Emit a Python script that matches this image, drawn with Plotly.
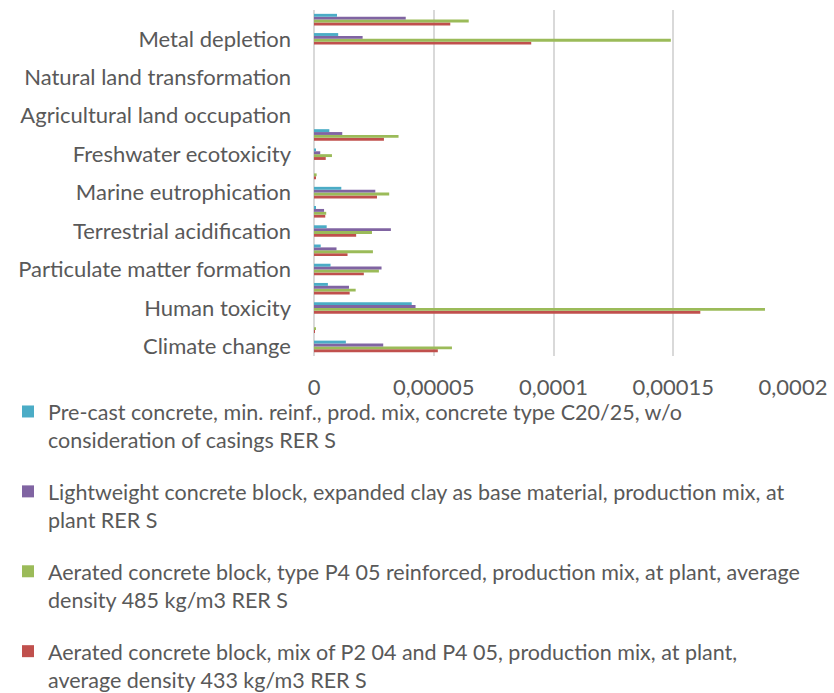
import plotly.graph_objects as go

# ReCiPe midpoint impact categories, listed bottom to top
categories = [
    "Climate change",
    "Ozone depletion",
    "Human toxicity",
    "Photochemical oxidant formation",
    "Particulate matter formation",
    "Ionising radiation",
    "Terrestrial acidification",
    "Freshwater eutrophication",
    "Marine eutrophication",
    "Terrestrial ecotoxicity",
    "Freshwater ecotoxicity",
    "Marine ecotoxicity",
    "Agricultural land occupation",
    "Urban land occupation",
    "Natural land transformation",
    "Water depletion",
    "Metal depletion",
    "Fossil depletion",
]

# only every other category carries a visible axis label
labeled_categories = categories[0::2]

series_names = [
    "Pre-cast concrete, min. reinf., prod. mix, concrete type C20/25, w/o<br>consideration of casings RER S",
    "Lightweight concrete block, expanded clay as base material, production mix, at<br>plant RER S",
    "Aerated concrete block, type P4 05 reinforced, production mix, at plant, average<br>density 485 kg/m3 RER S",
    "Aerated concrete block, mix of P2 04 and P4 05, production mix, at plant,<br>average density 433 kg/m3 RER S",
]

precast = [1.33e-5, 0.0, 4.08e-5, 0.58e-5, 0.69e-5, 0.28e-5, 0.53e-5, 0.05e-5, 1.14e-5,
           0.0, 0.07e-5, 0.64e-5, 0.0, 0.0, 0.0, 0.0, 1.01e-5, 0.96e-5]
lightweight = [2.89e-5, 0.0, 4.24e-5, 1.46e-5, 2.82e-5, 0.94e-5, 3.21e-5, 0.42e-5, 2.56e-5,
               0.0, 0.26e-5, 1.18e-5, 0.0, 0.0, 0.0, 0.0, 2.03e-5, 3.83e-5]
aerated_p405 = [5.76e-5, 0.05e-5, 18.83e-5, 1.74e-5, 2.71e-5, 2.46e-5, 2.42e-5, 0.51e-5, 3.14e-5,
                0.11e-5, 0.75e-5, 3.53e-5, 0.0, 0.0, 0.0, 0.0, 14.9e-5, 6.46e-5]
aerated_mix = [5.17e-5, 0.03e-5, 16.13e-5, 1.49e-5, 2.08e-5, 1.40e-5, 1.76e-5, 0.47e-5, 2.63e-5,
               0.07e-5, 0.49e-5, 2.92e-5, 0.0, 0.0, 0.0, 0.0, 9.07e-5, 5.69e-5]

x_tick_values = [0, 0.00005, 0.0001, 0.00015, 0.0002]
x_tick_labels = ["0", "0,00005", "0,0001", "0,00015", "0,0002"]

colors = ["#4BACC6", "#8064A2", "#9BBB59", "#C0504D"]
series_values = [precast, lightweight, aerated_p405, aerated_mix]

text_color = "#595959"
font_family = "Lato, Calibri, sans-serif"
font_size = 22
legend_font_size = 21.5

fig = go.Figure()
# add in reverse so the first series sits on top within each group
for rank in reversed(range(4)):
    fig.add_trace(go.Bar(
        y=categories,
        x=series_values[rank],
        orientation="h",
        name=series_names[rank],
        marker=dict(color=colors[rank], line=dict(width=0)),
        legendgroup=f"s{rank}",
        legendrank=rank + 1,
    ))

fig.update_layout(
    width=834,
    height=693,
    margin=dict(l=314, r=41, t=10, b=337, autoexpand=False),
    paper_bgcolor="white",
    plot_bgcolor="white",
    barmode="group",
    bargap=0.4,
    bargroupgap=0,
    font=dict(family=font_family, size=font_size, color=text_color),
    xaxis=dict(
        range=[0, 0.0002],
        tickvals=x_tick_values,
        ticktext=x_tick_labels,
        tickangle=0,
        automargin=False,
        showgrid=True,
        gridcolor="#D9D9D9",
        gridwidth=2,
        zeroline=True,
        zerolinecolor="#D9D9D9",
        zerolinewidth=2,
        showline=False,
        ticks="",
        ticklabelstandoff=16,
        tickfont=dict(size=font_size, color=text_color),
    ),
    yaxis=dict(
        type="category",
        categoryorder="array",
        categoryarray=categories,
        tickvals=labeled_categories,
        automargin=False,
        showgrid=False,
        zeroline=False,
        showline=False,
        ticks="",
        ticklabelstandoff=22,
        tickfont=dict(size=font_size, color=text_color),
    ),
    showlegend=True,
    legend=dict(
        xref="container",
        yref="container",
        x=8 / 834,
        y=1 - 391 / 693,
        xanchor="left",
        yanchor="top",
        orientation="v",
        traceorder="grouped",
        tracegroupgap=21,
        valign="top",
        font=dict(size=legend_font_size, color=text_color),
        bgcolor="rgba(0,0,0,0)",
        itemwidth=30,
    ),
)

fig.write_html("out.html")
